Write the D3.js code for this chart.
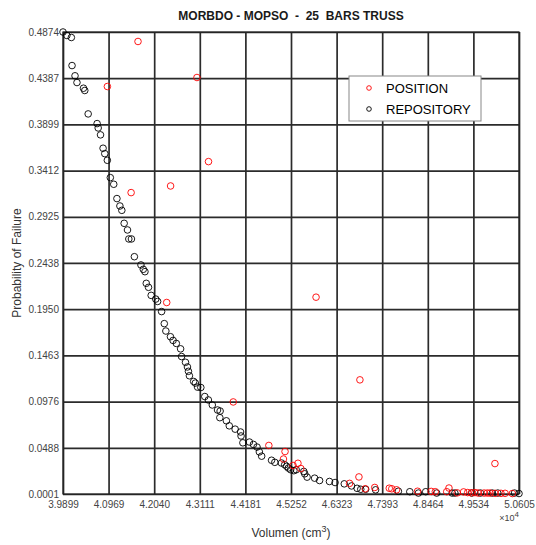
<!DOCTYPE html>
<html>
<head>
<meta charset="utf-8">
<script src="https://cdn.jsdelivr.net/npm/d3@7"></script>
<style>
  body { margin: 0; background: #fff; }
  text { font-family: "Liberation Sans", Arial, sans-serif; }
</style>
</head>
<body>
<div id="chart"></div>
<script>
// data (volume in cm3, probability of failure)
var repoVol = [39899, 39990, 40095, 40111, 40181, 40227, 40380, 40410, 40490, 40700,
  40725, 40780, 40840, 40880, 40940, 41010, 41090, 41165, 41235, 41280,
  41335, 41413, 41444, 41506, 41575, 41729, 41784, 41823, 41854, 41907,
  41969, 42077, 42120, 42214, 42277, 42314, 42422, 42483, 42560, 42660,
  42683, 42775, 42821, 42844, 42867, 42967, 43006, 43059, 43135, 43228,
  43312, 43404, 43527, 43588, 43581, 43735, 43803, 43941, 44068, 44079,
  44122, 44276, 44370, 44455, 44509, 44563, 44795, 44872, 45027, 45104,
  45150, 45189, 45243, 45320, 45375, 45552, 45575, 45630, 45807, 45923,
  46155, 46287, 46503, 46673, 46804, 46890, 47005, 47238, 47773, 48041,
  48244, 48415, 48672, 49036, 49100, 49497, 49700, 49978, 50107, 50500, 50605];
var repoProb = [0.4874, 0.4837, 0.4816, 0.4520, 0.4412, 0.4341, 0.4281, 0.4257, 0.4010, 0.3908,
  0.3862, 0.3789, 0.3648, 0.3591, 0.3521, 0.3338, 0.3268, 0.3117, 0.3039, 0.2993,
  0.2856, 0.2786, 0.2691, 0.2691, 0.2504, 0.2417, 0.2371, 0.2346, 0.2223, 0.2181,
  0.2096, 0.2057, 0.2032, 0.1925, 0.1798, 0.1720, 0.1660, 0.1621, 0.1589, 0.1532,
  0.1451, 0.1390, 0.1341, 0.1295, 0.1248, 0.1188, 0.1171, 0.1128, 0.1124, 0.1029,
  0.0993, 0.0940, 0.0887, 0.0876, 0.0806, 0.0773, 0.0720, 0.0685, 0.0655, 0.0613,
  0.0541, 0.0549, 0.0524, 0.0496, 0.0445, 0.0400, 0.0357, 0.0335, 0.0328, 0.0310,
  0.0293, 0.0275, 0.0257, 0.0247, 0.0257, 0.0239, 0.0214, 0.0179, 0.0168, 0.0143,
  0.0133, 0.0122, 0.0108, 0.0086, 0.0061, 0.0051, 0.0051, 0.0045, 0.0030, 0.0025,
  0.0011, 0.0025, 0.0011, 0.0011, 0.0011, 0.0011, 0.0011, 0.0011, 0.0011, 0.0011, 0.0006];

var posVol = [40941, 41660, 43044, 43315, 41498, 42425, 42334, 45840, 46870, 43896,
  44732, 45112, 45075, 45300, 45415, 45482, 46627, 46847, 46995, 47218,
  47559, 47618, 47730, 48223, 48544, 48640, 48961, 48908, 49154, 49304,
  49400, 49486, 49571, 49646, 49786, 49861, 49925, 50043, 50182, 50278, 50449, 50040];
var posProb = [0.4299, 0.4774, 0.4394, 0.3507, 0.3180, 0.3250, 0.2021, 0.2077, 0.1205, 0.0972,
  0.0513, 0.0449, 0.0370, 0.0302, 0.0325, 0.0270, 0.0113, 0.0181, 0.0056, 0.0070,
  0.0062, 0.0056, 0.0045, 0.0030, 0.0028, 0.0025, 0.0064, 0.0025, 0.0013, 0.0023,
  0.0016, 0.0013, 0.0016, 0.0011, 0.0011, 0.0011, 0.0011, 0.0008, 0.0008, 0.0008, 0.0006, 0.0322];

var xTicks = [39899, 40969, 42040, 43111, 44181, 45252, 46323, 47393, 48464, 49534, 50605];
var yTicks = [0.0001, 0.0488, 0.0976, 0.1463, 0.1950, 0.2438, 0.2925, 0.3412, 0.3899, 0.4387, 0.4874];
var legendNames = ["POSITION", "REPOSITORY"];

var margin = {top: 32, right: 17, bottom: 51, left: 63};
var width = 536 - margin.left - margin.right, height = 545 - margin.top - margin.bottom;

var svg = d3.select("#chart")
  .append("svg")
  .attr("width", 536)
  .attr("height", 545);
var g = svg.append("g")
  .attr("transform", "translate(" + margin.left + "," + margin.top + ")");

var x = d3.scaleLinear().domain([xTicks[0], xTicks[10]]).range([0, width]);
var y = d3.scaleLinear().domain([yTicks[0], yTicks[10]]).range([height, 0]);

// grid
g.append("g")
  .attr("class", "grid")
  .attr("transform", "translate(0," + height + ")")
  .call(d3.axisBottom(x).tickValues(xTicks).tickSize(-height).tickFormat(""));
g.append("g")
  .attr("class", "grid")
  .call(d3.axisLeft(y).tickValues(yTicks).tickSize(-width).tickFormat(""));
g.selectAll(".grid line").attr("stroke", "#2b2b2b").attr("stroke-width", 1.7);
g.selectAll(".grid .domain").remove();

// axes labels
var xa = g.append("g")
  .attr("transform", "translate(0," + height + ")")
  .call(d3.axisBottom(x).tickValues(xTicks).tickSize(0).tickPadding(7)
    .tickFormat(function(d) { return (d / 1e4).toFixed(4); }));
var ya = g.append("g")
  .call(d3.axisLeft(y).tickValues(yTicks).tickSize(0).tickPadding(4)
    .tickFormat(function(d) { return d.toFixed(4); }));
xa.select(".domain").remove();
ya.select(".domain").remove();
g.selectAll(".tick text")
  .attr("fill", "#444")
  .attr("font-size", 10)
  .attr("font-family", "Liberation Sans, Arial, sans-serif");

// box
g.append("rect")
  .attr("width", width).attr("height", height)
  .attr("fill", "none").attr("stroke", "#222").attr("stroke-width", 1.2);

// points
g.append("g").selectAll("circle")
  .data(repoVol.map(function(v, i) { return [v, repoProb[i]]; }))
  .enter().append("circle")
  .attr("cx", function(d) { return x(d[0]); })
  .attr("cy", function(d) { return y(d[1]); })
  .attr("r", 3.3)
  .attr("fill", "none")
  .attr("stroke", "#000")
  .attr("stroke-width", 0.9);

g.append("g").selectAll("circle")
  .data(posVol.map(function(v, i) { return [v, posProb[i]]; }))
  .enter().append("circle")
  .attr("cx", function(d) { return x(d[0]); })
  .attr("cy", function(d) { return y(d[1]); })
  .attr("r", 3.3)
  .attr("fill", "none")
  .attr("stroke", "#ff0000")
  .attr("stroke-width", 0.9);

// title
svg.append("text")
  .attr("x", margin.left + width / 2)
  .attr("y", 20)
  .attr("text-anchor", "middle")
  .attr("font-size", 12)
  .attr("font-weight", "bold")
  .attr("fill", "#1a1a1a")
  .style("white-space", "pre")
  .text("MORBDO - MOPSO  -  25  BARS TRUSS");

// x label
var xl = svg.append("text")
  .attr("x", margin.left + width / 2)
  .attr("y", 537)
  .attr("text-anchor", "middle")
  .attr("font-size", 12)
  .attr("fill", "#333");
xl.append("tspan").text("Volumen (cm");
xl.append("tspan").attr("dy", -5).attr("font-size", 9).text("3");
xl.append("tspan").attr("dy", 5).text(")");

// exponent
var ex = svg.append("text")
  .attr("x", margin.left + width)
  .attr("y", 521)
  .attr("text-anchor", "end")
  .attr("font-size", 9)
  .attr("fill", "#444");
ex.append("tspan").text("\u00d710");
ex.append("tspan").attr("dy", -4).attr("font-size", 8).text("4");

// y label
svg.append("text")
  .attr("transform", "translate(21," + (margin.top + height / 2) + ") rotate(-90)")
  .attr("text-anchor", "middle")
  .attr("font-size", 12)
  .attr("fill", "#333")
  .text("Probability of Failure");

// legend
var legend = svg.append("g")
  .attr("transform", "translate(349,76)");
legend.append("rect")
  .attr("width", 132).attr("height", 45)
  .attr("fill", "#fff").attr("stroke", "#888").attr("stroke-width", 1);
legend.selectAll("circle")
  .data(legendNames)
  .enter().append("circle")
  .attr("cx", 20)
  .attr("cy", function(d, i) { return 12 + i * 21; })
  .attr("r", 2.3)
  .attr("fill", "none")
  .attr("stroke", function(d, i) { return i === 0 ? "#ff0000" : "#000"; })
  .attr("stroke-width", 0.9);
legend.selectAll("text")
  .data(legendNames)
  .enter().append("text")
  .attr("x", 37)
  .attr("y", function(d, i) { return 17 + i * 21; })
  .attr("font-size", 13)
  .attr("fill", "#000")
  .text(function(d) { return d; });
</script>
</body>
</html>
